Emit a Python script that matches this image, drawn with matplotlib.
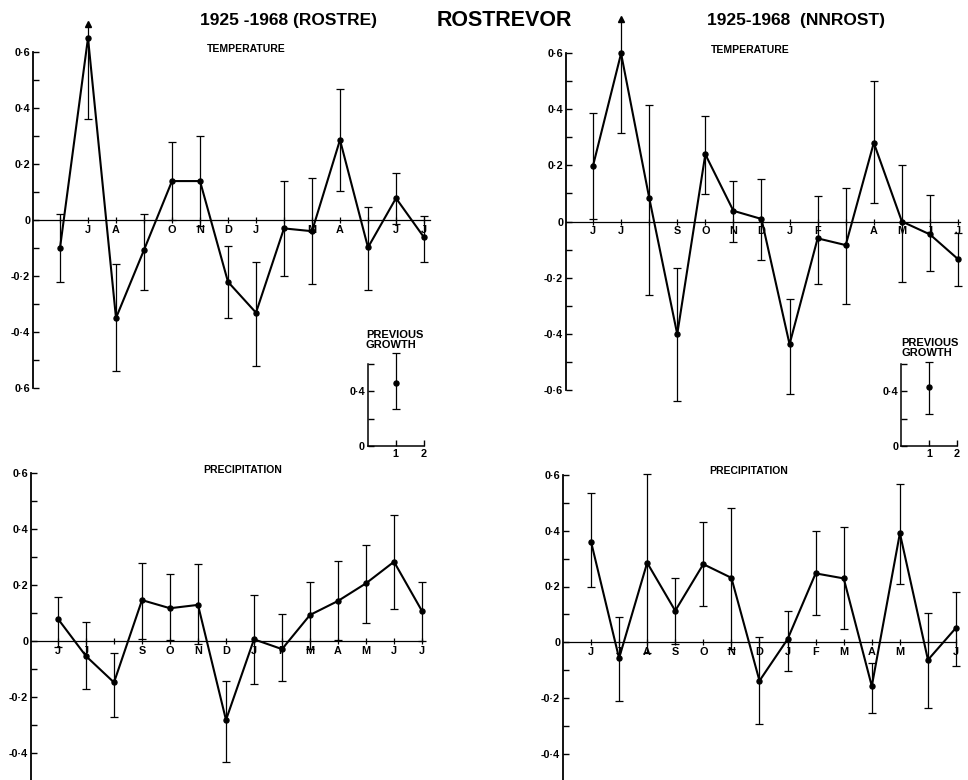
import numpy as np
import matplotlib
matplotlib.use("Agg")
import matplotlib.pyplot as plt

plt.rcParams['font.family'] = ['Liberation Sans', 'DejaVu Sans']
plt.rcParams['font.weight'] = 'bold'

# ---------------- data ----------------
month_pos = list(range(14))
labels_temp_rostre = ['', 'J', 'A', '', 'O', 'N', 'D', 'J', '', 'M', 'A', '', 'J', 'J']
labels_temp_nnrost = ['J', 'J', '', 'S', 'O', 'N', 'D', 'J', 'F', '', 'A', 'M', 'J', 'J']
labels_prec_rostre = ['J', 'J', '', 'S', 'O', 'N', 'D', 'J', 'F', 'M', 'A', 'M', 'J', 'J']
labels_prec_nnrost = ['J', 'J', 'A', 'S', 'O', 'N', 'D', 'J', 'F', 'M', 'A', 'M', '', 'J']

temp_rostre = [-0.10, 0.65, -0.35, -0.107, 0.139, 0.139, -0.221, -0.331, -0.03, -0.04, 0.286, -0.098, 0.078, -0.062]
temp_rostre_lo = [-0.22, 0.36, -0.54, -0.25, 0.00, -0.02, -0.35, -0.52, -0.20, -0.23, 0.104, -0.25, -0.015, -0.15]
temp_rostre_hi = [0.02, 0.70, -0.157, 0.02, 0.28, 0.30, -0.092, -0.15, 0.139, 0.15, 0.467, 0.045, 0.167, 0.015]
temp_rostre_arrow = [1]

temp_nnrost = [0.198, 0.598, 0.085, -0.401, 0.239, 0.038, 0.009, -0.437, -0.06, -0.084, 0.28, 0.0, -0.046, -0.134]
temp_nnrost_lo = [0.01, 0.316, -0.26, -0.64, 0.098, -0.073, -0.137, -0.614, -0.223, -0.295, 0.065, -0.216, -0.176, -0.23]
temp_nnrost_hi = [0.387, 0.72, 0.415, -0.164, 0.375, 0.144, 0.151, -0.276, 0.091, 0.12, 0.50, 0.20, 0.094, -0.04]
temp_nnrost_arrow = [1]

prec_rostre = [0.079, -0.054, -0.148, 0.146, 0.117, 0.129, -0.282, 0.006, -0.029, 0.093, 0.143, 0.206, 0.283, 0.107]
prec_rostre_lo = [-0.02, -0.171, -0.272, 0.007, 0.005, -0.01, -0.431, -0.154, -0.142, -0.03, 0.003, 0.065, 0.113, 0.0]
prec_rostre_hi = [0.158, 0.069, -0.044, 0.278, 0.239, 0.275, -0.142, 0.164, 0.095, 0.212, 0.287, 0.343, 0.45, 0.212]

prec_nnrost = [0.361, -0.057, 0.285, 0.113, 0.28, 0.231, -0.138, 0.011, 0.247, 0.229, -0.157, 0.391, -0.063, 0.052]
prec_nnrost_lo = [0.199, -0.21, -0.04, -0.005, 0.131, -0.025, -0.293, -0.102, 0.098, 0.048, -0.252, 0.209, -0.234, -0.085]
prec_nnrost_hi = [0.534, 0.09, 0.602, 0.23, 0.43, 0.482, 0.02, 0.113, 0.40, 0.412, -0.073, 0.567, 0.104, 0.18]

prev_x = [1]
prev_rostre = [0.46]
prev_rostre_lo = [0.266]
prev_rostre_hi = [0.676]
prev_nnrost = [0.43]
prev_nnrost_lo = [0.23]
prev_nnrost_hi = [0.61]

ytick_vals_temp = [0.6, 0.4, 0.2, 0.0, -0.2, -0.4, -0.6]
ytick_labels_temp_rostre = ['0·6', '0·4', '0·2', '0', '-0·2', '-0·4', '0·6']
ytick_labels_temp_nnrost = ['0·6', '0·4', '0·2', '0', '-0·2', '-0·4', '-0·6']
ytick_vals_prec = [0.6, 0.4, 0.2, 0.0, -0.2, -0.4]
ytick_labels_prec = ['0·6', '0·4', '0·2', '0', '-0·2', '-0·4']

# ---------------- layout helpers ----------------
W, H = 968, 780
fig = plt.figure(figsize=(W / 100, H / 100), dpi=100)


def make_ax(yaxis_px, x0_px, dx, y0_px, ys, xmax, ylo, yhi):
    xl = (yaxis_px - x0_px) / dx
    left = yaxis_px
    right = x0_px + xmax * dx
    top = y0_px - yhi * ys
    bot = y0_px - ylo * ys
    ax = fig.add_axes([left / W, 1 - bot / H, (right - left) / W, (bot - top) / H])
    ax.set_xlim(xl, xmax)
    ax.set_ylim(ylo, yhi)
    ax.patch.set_alpha(0)
    return ax


def style_main(ax, yvals, ylabels, spine_lo, spine_hi, xlabels):
    for s in ['top', 'right']:
        ax.spines[s].set_visible(False)
    ax.spines['left'].set_bounds(spine_lo, spine_hi)
    ax.spines['left'].set_linewidth(1.3)
    ax.spines['bottom'].set_position(('data', 0))
    ax.spines['bottom'].set_linewidth(0.9)
    ax.set_yticks(yvals, ylabels)
    minors = np.arange(spine_lo, spine_hi + 1e-9, 0.1)
    ax.set_yticks([m for m in minors if min(abs(m - v) for v in yvals) > 1e-6], minor=True)
    ax.tick_params(axis='y', which='both', direction='in', length=4, width=1.0, pad=2,
                   labelsize=7.8)
    ax.set_xticks(month_pos, xlabels)
    ax.tick_params(axis='x', direction='inout', length=5, width=0.9, pad=1, labelsize=7.8)
    for t in ax.get_xticklabels() + ax.get_yticklabels():
        t.set_fontweight('bold')


def draw_series(ax, x, y, lo, hi, arrows=()):
    x = np.asarray(x, float)
    lo = np.asarray(lo, float)
    hi = np.asarray(hi, float)
    ax.vlines(x, lo, hi, color='k', lw=0.9, clip_on=False)
    ax.plot(x, lo, ls='none', marker='_', ms=6, mew=0.9, color='k', clip_on=False)
    cap = np.array([i not in arrows for i in range(len(x))])
    ax.plot(x[cap], hi[cap], ls='none', marker='_', ms=6, mew=0.9, color='k', clip_on=False)
    if len(arrows):
        ai = list(arrows)
        ax.plot(x[ai], hi[ai], ls='none', marker='^', ms=4, color='k', clip_on=False)
    ax.plot(x, y, '-o', color='k', lw=1.5, ms=3.6, clip_on=False)


# ---- top-left: temperature ROSTRE ----
ax1 = make_ax(33, 60, 28.0, 220, 280, 13.2, -0.64, 0.76)
style_main(ax1, ytick_vals_temp, ytick_labels_temp_rostre, -0.6, 0.6, labels_temp_rostre)
draw_series(ax1, month_pos, temp_rostre, temp_rostre_lo, temp_rostre_hi, temp_rostre_arrow)

# ---- top-right: temperature NNROST ----
ax2 = make_ax(566, 593, 28.08, 221.5, 281, 13.07, -0.66, 0.76)
style_main(ax2, ytick_vals_temp, ytick_labels_temp_nnrost, -0.6, 0.6, labels_temp_nnrost)
draw_series(ax2, month_pos, temp_nnrost, temp_nnrost_lo, temp_nnrost_hi, temp_nnrost_arrow)

# ---- bottom-left: precipitation ROSTRE ----
ax3 = make_ax(31, 58, 28.0, 641, 280, 13.05, -0.5, 0.64)
style_main(ax3, ytick_vals_prec, ytick_labels_prec, -0.5, 0.6, labels_prec_rostre)
draw_series(ax3, month_pos, prec_rostre, prec_rostre_lo, prec_rostre_hi)

# ---- bottom-right: precipitation NNROST ----
ax4 = make_ax(563, 591, 28.08, 642.3, 279, 13.0, -0.5, 0.64)
style_main(ax4, ytick_vals_prec, ytick_labels_prec, -0.5, 0.6, labels_prec_nnrost)
draw_series(ax4, month_pos, prec_nnrost, prec_nnrost_lo, prec_nnrost_hi)


# ---- previous growth insets ----
def inset(yaxis_px, y0_px, x, y, lo, hi):
    ax = make_ax(yaxis_px, yaxis_px, 28.0, y0_px, 137.5, 2.0, 0.0, 0.72)
    for s in ['top', 'right']:
        ax.spines[s].set_visible(False)
    ax.spines['left'].set_bounds(0, 0.6)
    ax.spines['left'].set_linewidth(1.1)
    ax.spines['bottom'].set_linewidth(1.1)
    ax.set_yticks([0, 0.2, 0.4, 0.6], ['0', '', '0·4', ''])
    ax.set_xticks([1, 2], ['1', '2'])
    ax.tick_params(axis='both', direction='in', length=4, width=1.0, pad=2, labelsize=7.8)
    for t in ax.get_xticklabels() + ax.get_yticklabels():
        t.set_fontweight('bold')
    ax.errorbar(x, y, yerr=[np.subtract(y, lo), np.subtract(hi, y)], fmt='o', color='k',
                ms=3.6, elinewidth=0.9, capsize=3, capthick=0.9, clip_on=False)
    return ax


inset(367.7, 446, prev_x, prev_rostre, prev_rostre_lo, prev_rostre_hi)
inset(901, 446, prev_x, prev_nnrost, prev_nnrost_lo, prev_nnrost_hi)


# ---------------- texts ----------------
def ftext(xp, yp, s, size, ha='center', va='center', **kw):
    fig.text(xp / W, 1 - yp / H, s, fontsize=size, fontweight='bold', ha=ha, va=va, **kw)


ftext(289, 21, '1925 -1968 (ROSTRE)', 12.5)
ftext(504, 20, 'ROSTREVOR', 15.5)
ftext(796, 21, '1925-1968  (NNROST)', 12.5)
ftext(246, 49, 'TEMPERATURE', 7.5)
ftext(750, 50, 'TEMPERATURE', 7.5)
ftext(243, 470, 'PRECIPITATION', 7.5)
ftext(749, 471, 'PRECIPITATION', 7.5)
ftext(366, 340, 'PREVIOUS\nGROWTH', 8, ha='left', linespacing=0.95)
ftext(901, 348, 'PREVIOUS\nGROWTH', 8, ha='left', linespacing=0.95)

fig.savefig('out.png', dpi=100)
